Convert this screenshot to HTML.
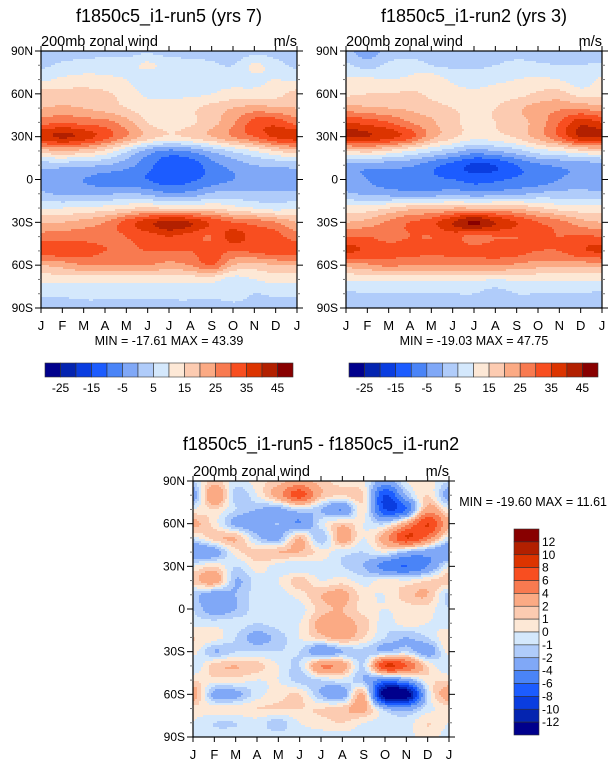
<!DOCTYPE html>
<html><head><meta charset="utf-8">
<style>
body{margin:0;background:#fff;width:615px;height:767px;overflow:hidden;font-family:"Liberation Sans",Arial,sans-serif}
svg{display:block}
text{font-family:"Liberation Sans",Arial,sans-serif;fill:#000}
</style></head><body>
<svg id="chart" width="615" height="767" viewBox="0 0 615 767">
<g id="p1"></g>
<g id="p2"></g>
<g id="p3"></g>
<g id="cb"></g>
<g id="tx"></g>
</svg>
<script>
// ---- data ----
const months = ['J','F','M','A','M','J','J','A','S','O','N','D','J'];
const latLabels = ['90N','60N','30N','0','30S','60S','90S'];
const lats = [90,80,70,60,50,40,30,20,10,0,-10,-20,-30,-40,-50,-60,-70,-80,-90];
const fullLevels = [-25,-20,-15,-10,-5,0,5,10,15,20,25,30,35,40,45];
const fullTickLabels = ['-25','-15','-5','5','15','25','35','45'];
const diffLevels = [-12,-10,-8,-6,-4,-2,-1,0,1,2,4,6,8,10,12];
const diffTickLabels = ['12','10','8','6','4','2','1','0','-1','-2','-4','-6','-8','-10','-12'];
const palette = ['#00008c','#0424b0','#0a3de0','#1c5cff','#4a84f7','#80a8f7','#b0ccfa','#d4e8fc','#fde8d6','#fccbb1','#fbaa84','#f87a50','#f84e20','#dc3400','#b22000','#880000'];

const run5 = [
[2,3,3,3,3,4,3,3,3,1,3,3,2],
[4,6,7,8,8,11,8,7,6,5,11,7,4],
[9,11,12,11,10,6,8,9,9,8,9,10,9],
[17,17,17,16,13,9,9,9,10,12,12,13,17],
[20,21,20,18,15,12,12,14,17,20,22,21,20],
[28,30,28,27,22,15,12,14,18,24,32,33,28],
[38,41,38,32,25,18,14,16,20,25,30,36,38],
[18,20,18,14,6,-2,-6,-4,1,6,10,15,18],
[2,2,1,0,-3,-8,-14,-13,-7,-3,0,1,2],
[-3,-4,-5,-7,-8,-10,-13,-11,-8,-5,-3,-3,-3],
[1,-1,-1,-1,1,-1,-4,-3,1,2,1,1,1],
[10,10,11,12,14,16,14,14,15,12,10,8,10],
[20,20,22,25,32,38,42,40,34,30,28,25,20],
[27,28,28,28,30,32,35,32,30,37,33,32,27],
[33,33,32,30,29,30,30,30,32,30,31,33,33],
[20,22,25,25,25,25,23,25,30,20,18,20,20],
[12,12,12,12,12,12,12,12,12,8,10,12,12],
[6,6,7,7,7,7,7,7,7,8,5,6,6],
[3,3,3,3,3,3,3,3,1,3,3,3,3]];

const run2 = [
[2,-3,2,2,2,2,2,2,2,2,2,2,2],
[6,3,6,8,5,4,4,5,7,6,5,5,6],
[11,11,10,11,13,9,8,9,10,11,10,7,11],
[14,15,15,16,14,12,11,12,13,16,17,13,14],
[22,21,20,19,17,15,14,15,19,22,24,24,22],
[35,33,30,25,21,16,14,15,18,22,30,38,35],
[41,40,37,32,22,16,12,13,16,22,30,40,41],
[15,17,14,10,6,2,-2,0,3,8,10,14,15],
[-2,-3,-3,-4,-8,-12,-16,-15,-10,-6,-4,-3,-2],
[-3,-5,-7,-8,-9,-10,-12,-11,-9,-8,-5,-3,-3],
[1,-1,-2,-3,-3,-1,-3,-2,-1,1,2,2,1],
[12,12,15,18,18,20,20,20,19,16,13,12,12],
[20,22,26,30,33,40,46,40,35,30,27,22,20],
[30,30,28,30,30,32,28,30,30,31,30,31,30],
[36,34,32,32,31,32,32,33,32,30,30,34,36],
[22,24,26,25,25,25,25,25,24,22,22,22,22],
[11,11,11,11,11,11,11,10,11,11,11,11,11],
[4,5,5,5,5,5,5,3,5,5,5,5,4],
[3,3,3,3,3,3,3,3,3,3,3,3,3]];

const diff = [
[-1,1.5,-0.5,0.5,1.5,2.5,1.5,0.5,0,-3,0,0.5,-1],
[-3,4,-1.5,0,3,7,2,1,1,-8,-2,1,-3],
[0,1,-1,-2,-2.5,-1,-2,-4,0.5,-8,-6,3,0],
[2.5,0.5,-2.5,-3,-2,-4,-0.5,1.5,0,-1,3,8,2.5],
[-0.5,1.5,2,-1.5,-2.5,2,-2,3,0,3,8,5,-0.5],
[-4,-3,0.5,1.5,2,2,0.5,-0.5,-1,0,-2,-3,-4],
[0,1,-1,0.5,-0.5,-1,-0.5,-1,-2,-5,-6,-4,0],
[1.5,3,-2,-0.5,0,1.5,0,0.5,-0.5,0.5,0,1,1.5],
[-1.5,-3,-2,-0.5,-0.5,0.5,2,2.5,0.5,0,1.5,2,-1.5],
[-1,-3,-2,-0.5,-0.5,-0.5,1.5,2,0.5,0,0.5,0.5,-1],
[-0.5,-0.5,-0.5,-1,-0.5,0,2.5,2.5,1.5,-0.5,0.5,0,-0.5],
[1,0.5,-1,-2.5,-1.5,0,1.5,2.5,1,-1,-2,-1,1],
[0.5,-2,-1,-1,-1,-1,-3.5,-2,-1.5,-2,-1,-3,0.5],
[-1,1.5,2,1.5,0,-1,4,3,-1,8,6,1,-1],
[1,0.5,0.5,0,0,-1.5,-1,-0.5,-2,-5,-3,0.5,1],
[3,-2.5,-2.5,-0.5,0.5,1,-2,-3,2,-14,-14,-1,3],
[0.5,0.5,0.5,1,1,1,1,1.5,2.5,-2,-3,-0.5,0.5],
[0,-1,-1,-0.5,-1.5,0,0.5,1,0,-0.5,-0.5,1,0],
[-0.5,-0.5,-0.5,-0.5,-0.5,-0.5,-0.5,-0.5,-0.5,-0.5,-0.5,0.5,-0.5]];

const NS='http://www.w3.org/2000/svg';
function mk(tag,attrs,parent){const e=document.createElementNS(NS,tag);for(const k in attrs)e.setAttribute(k,attrs[k]);parent.appendChild(e);return e;}
function colorFor(v,levels){let i=0;while(i<levels.length&&v>=levels[i])i++;return palette[i];}
function cr(p0,p1,p2,p3,t){return 0.5*((2*p1)+(-p0+p2)*t+(2*p0-5*p1+4*p2-p3)*t*t+(-p0+3*p1-3*p2+p3)*t*t*t);}
function at(grid,r,c){r=Math.max(0,Math.min(18,r));c=Math.max(0,Math.min(12,c));return grid[r][c];}
function sample(grid,fx,fy){
  const x0=Math.min(Math.floor(fx),11),y0=Math.min(Math.floor(fy),17);
  const tx=fx-x0,ty=fy-y0;
  const rows=[];
  for(let j=-1;j<=2;j++){
    const r=y0+j;
    rows.push(cr(at(grid,r,x0-1),at(grid,r,x0),at(grid,r,x0+1),at(grid,r,x0+2),tx));
  }
  return cr(rows[0],rows[1],rows[2],rows[3],ty);
}
function panel(gid,grid,levels,X0,X1,Y0,Y1){
  const g=document.getElementById(gid);
  const xS=m=>X0+(X1-X0)*m/12, yS=lat=>Y0+(Y1-Y0)*(90-lat)/180;
  const step=2;
  const fld=mk('g',{'shape-rendering':'crispEdges'},g);
  
  
  for(let y=Y0;y<Y1;y+=step){
    const fy=(y+step/2-Y0)/(Y1-Y0)*18;
    let runStart=X0,runCol=null;
    for(let x=X0;x<=X1;x+=step){
      let col=null;
      if(x<X1){const fx=(x+step/2-X0)/(X1-X0)*12;col=colorFor(sample(grid,Math.min(fx,12),Math.min(fy,18)),levels);}
      if(col!==runCol){
        if(runCol!==null){const r=mk('rect',{x:runStart,y:y,width:Math.min(x,X1)-runStart,height:Math.min(step,Y1-y)+0.5,fill:runCol},fld);
          
          }
        runStart=x;runCol=col;
      }
    }
  }
  const frame=mk('rect',{x:X0,y:Y0,width:X1-X0,height:Y1-Y0,fill:'none',stroke:'#000','stroke-width':1.2},g);
  
  
  months.forEach((m,i)=>{
    const x=xS(i);
    mk('line',{x1:x,x2:x,y1:Y1,y2:Y1+5,stroke:'#000','stroke-width':1},g);
    mk('line',{x1:x,x2:x,y1:Y0,y2:Y0-5,stroke:'#000','stroke-width':1},g);
    const t=mk('text',{x:x,y:Y1+22,'font-size':13,'text-anchor':'middle'},g);t.textContent=m;
    
    
  });
  lats.forEach((lat,i)=>{
    const y=yS(lat),major=lat%30===0,len=major?6:3,col=major?'#000':'#777';
    mk('line',{x1:X0,x2:X0-len,y1:y,y2:y,stroke:col,'stroke-width':1},g);
    mk('line',{x1:X1,x2:X1+len,y1:y,y2:y,stroke:col,'stroke-width':1},g);
  });
  latLabels.forEach((l,i)=>{
    const t=mk('text',{x:X0-8,y:yS(90-30*i)+4,'font-size':12,'text-anchor':'end'},g);t.textContent=l;
    
    
  });
}
panel('p1',run5,fullLevels,41,297,51,308);
panel('p2',run2,fullLevels,346,602,51,308);
panel('p3',diff,diffLevels,193,449,481,737);

const cb=document.getElementById('cb');
function hbar(X0,X1,Y0,Y1){
  const w=(X1-X0)/16;
  palette.forEach((c,i)=>{const r=mk('rect',{x:X0+i*w,y:Y0,width:w,height:Y1-Y0,fill:c,stroke:'#333','stroke-width':0.6},cb);
    
    });
  fullTickLabels.forEach((l,i)=>{const t=mk('text',{x:X0+w*(1+2*i),y:Y1+15,'font-size':12,'text-anchor':'middle'},cb);t.textContent=l;
    
    });
}
hbar(45,293,363,377);
hbar(349,598,363,377);
(function(){
  const X0=514,X1=539,Y0=529,Y1=735,h=(Y1-Y0)/16;
  palette.slice().reverse().forEach((c,i)=>{const r=mk('rect',{x:X0,y:Y0+i*h,width:X1-X0,height:h,fill:c,stroke:'#333','stroke-width':0.6},cb);
    
    });
  diffTickLabels.forEach((l,i)=>{const t=mk('text',{x:X1+3,y:Y0+h*(i+1)+4,'font-size':12},cb);t.textContent=l;
    
    });
})();

const tx=document.getElementById('tx');
function T(s,x,y,size,anchor,name){const t=mk('text',{x:x,y:y,'font-size':size,'text-anchor':anchor||'start'},tx);t.textContent=s;
  
  }
T('f1850c5_i1-run5 (yrs 7)',169,22,18,'middle','title-run5');
T('f1850c5_i1-run2 (yrs 3)',474,22,18,'middle','title-run2');
T('f1850c5_i1-run5 - f1850c5_i1-run2',321,450,18,'middle','title-difference');
T('200mb zonal wind',41,46,14.5,'start','subtitle-left');
T('m/s',297,46,14.5,'end','units-label');
T('200mb zonal wind',346,46,14.5,'start','subtitle-left');
T('m/s',602,46,14.5,'end','units-label');
T('200mb zonal wind',193,476,14.5,'start','subtitle-left');
T('m/s',449,476,14.5,'end','units-label');
T('MIN = -17.61 MAX =  43.39',169,345,12.5,'middle','min-max-run5');
T('MIN = -19.03 MAX =  47.75',474,345,12.5,'middle','min-max-run2');
T('MIN = -19.60 MAX =  11.61',607,506,12.5,'end','min-max-difference');
</script>
</body></html>
